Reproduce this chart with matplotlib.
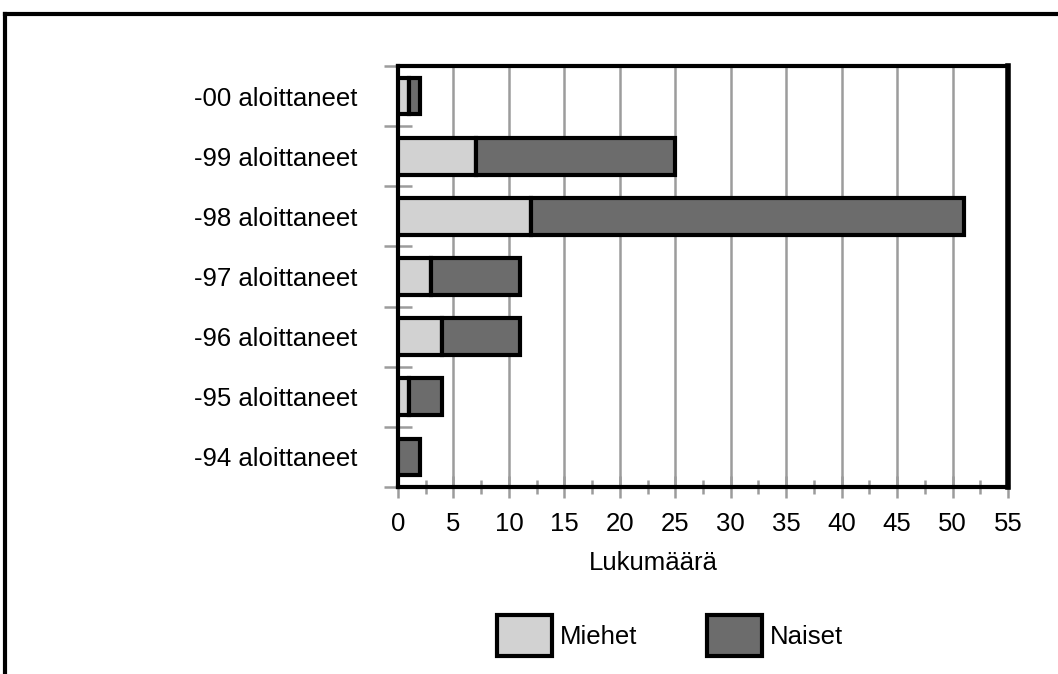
import matplotlib
matplotlib.use("Agg")
import matplotlib.pyplot as plt
from matplotlib.patches import Patch
from matplotlib.lines import Line2D
import numpy as np

plt.rcParams['font.family'] = ['Liberation Sans', 'DejaVu Sans']

# Starting year groups (bottom to top) and counts by gender
categories = ["-94 aloittaneet", "-95 aloittaneet", "-96 aloittaneet",
              "-97 aloittaneet", "-98 aloittaneet", "-99 aloittaneet",
              "-00 aloittaneet"]
miehet = [0, 1, 4, 3, 12, 7, 1]
naiset = [2, 3, 7, 8, 39, 18, 1]
x_ticks = [0, 5, 10, 15, 20, 25, 30, 35, 40, 45, 50, 55]

light = "#d2d2d2"
dark = "#6c6c6c"
grid_col = "#9c9c9c"
FS = 18.5

fig = plt.figure(figsize=(10.58, 6.74), dpi=100)
ax = fig.add_axes([0.3762, 0.2774, 0.5766, 0.6247])

y = np.arange(len(categories))
h = 0.61
ax.barh(y, miehet, height=h, color=light, edgecolor="black", linewidth=3, zorder=3)
ax.barh(y, naiset, left=miehet, height=h, color=dark, edgecolor="black", linewidth=3, zorder=3)

ax.set_xlim(0, 55)
ax.set_ylim(-0.5, len(categories) - 0.5)

# vertical grid lines
for v in x_ticks[1:-1]:
    ax.axvline(v, color=grid_col, lw=1.8, zorder=1)

# x axis ticks
ax.set_xticks(x_ticks)
ax.set_xticklabels([str(v) for v in x_ticks], fontsize=FS)
ax.set_xticks(np.arange(2.5, 55, 5), minor=True)
ax.tick_params(axis="x", which="major", direction="inout", length=16, width=1.8,
               color=grid_col, pad=10)
ax.tick_params(axis="x", which="minor", direction="inout", length=10, width=1.8,
               color=grid_col)

# y axis: ticks at category boundaries, labels at centres
ax.set_yticks(np.arange(-0.5, len(categories), 1.0))
ax.set_yticklabels([])
ax.set_yticks(y, minor=True)
ax.set_yticklabels(categories, minor=True, fontsize=FS)
ax.tick_params(axis="y", which="major", direction="inout", length=20, width=1.8,
               color=grid_col)
ax.tick_params(axis="y", which="minor", length=0, pad=29)

for s in ["left", "bottom", "top"]:
    ax.spines[s].set_linewidth(3)
ax.spines["right"].set_linewidth(4)

ax.set_xlabel("Lukumäärä", fontsize=FS)
ax.xaxis.set_label_coords(0.418, -0.152)

handles = [Patch(facecolor=light, edgecolor="black", linewidth=3),
           Patch(facecolor=dark, edgecolor="black", linewidth=3)]
fig.legend(handles, ["Miehet", "Naiset"], loc="center", bbox_to_anchor=(0.633, 0.057),
           ncol=2, frameon=False, fontsize=FS, handlelength=2.15, handleheight=2.1,
           handletextpad=0.3, columnspacing=2.7)

# outer frame
fig.add_artist(Line2D([5 / 1058, 1.0], [1 - 14 / 674, 1 - 14 / 674], color="black", lw=3,
                      transform=fig.transFigure))
fig.add_artist(Line2D([5 / 1058, 5 / 1058], [0, 1 - 14 / 674], color="black", lw=3,
                      transform=fig.transFigure))

fig.savefig("out.png", dpi=100)
